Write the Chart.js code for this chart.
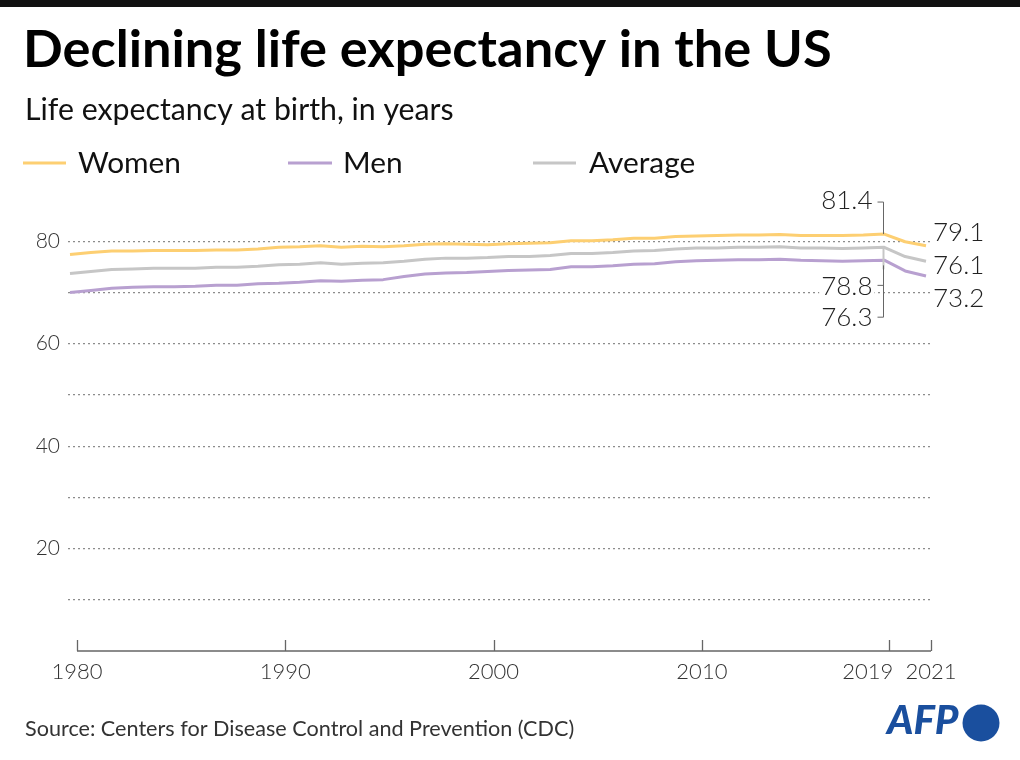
<!DOCTYPE html>
<html><head><meta charset="utf-8">
<script src="https://cdn.jsdelivr.net/npm/chart.js@4.4.1/dist/chart.umd.min.js"></script>
<style>html,body{margin:0;padding:0;background:#fff;}canvas{display:block}</style>
</head><body>
<canvas id="c" width="1020" height="760" style="width:1020px;height:760px"></canvas>
<script>
// ---- data ----
const years = [1980,1981,1982,1983,1984,1985,1986,1987,1988,1989,1990,1991,1992,1993,1994,1995,1996,1997,1998,1999,2000,2001,2002,2003,2004,2005,2006,2007,2008,2009,2010,2011,2012,2013,2014,2015,2016,2017,2018,2019,2020,2021];
const women = [77.4,77.8,78.1,78.1,78.2,78.2,78.2,78.3,78.3,78.5,78.8,78.9,79.1,78.8,79.0,78.9,79.1,79.4,79.5,79.4,79.3,79.5,79.6,79.7,80.1,80.1,80.3,80.6,80.6,80.9,81.0,81.1,81.2,81.2,81.3,81.1,81.1,81.1,81.2,81.4,79.9,79.1];
const men = [70.0,70.4,70.8,71.0,71.1,71.1,71.2,71.4,71.4,71.7,71.8,72.0,72.3,72.2,72.4,72.5,73.1,73.6,73.8,73.9,74.1,74.3,74.4,74.5,75.0,75.0,75.2,75.5,75.6,76.0,76.2,76.3,76.4,76.4,76.5,76.3,76.2,76.1,76.2,76.3,74.2,73.2];
const average = [73.7,74.1,74.5,74.6,74.7,74.7,74.7,74.9,74.9,75.1,75.4,75.5,75.8,75.5,75.7,75.8,76.1,76.5,76.7,76.7,76.8,77.0,77.0,77.2,77.6,77.6,77.8,78.1,78.2,78.5,78.7,78.7,78.8,78.8,78.9,78.7,78.7,78.6,78.7,78.8,77.0,76.1];
const seriesNames = ['Women','Men','Average'];
const xTickYears = [1980,1990,2000,2010,2019,2021];
const yGridValues = [10,20,30,40,50,60,70,80];
const yLabelValues = [20,40,60,80];
const highlightYear = 2019;
const titleText = 'Declining life expectancy in the US';
const subtitleText = 'Life expectancy at birth, in years';
const sourceText = 'Source: Centers for Disease Control and Prevention (CDC)';

// ---- styles ----
const COL = {Women:'#FDCF72', Men:'#B8A0D0', Average:'#C6C6C6'};
const FONT = 'Lato';

function pts(arr){ return years.map((y,i)=>({x:y,y:arr[i]})); }
function fitSize(ctx, text, spec, target){
  ctx.font = spec.replace('SIZE','100px');
  const m = ctx.measureText(text);
  const w = m.actualBoundingBoxLeft + m.actualBoundingBoxRight;
  return 100*target/w;
}
function drawInk(ctx, text, spec, size, xLeft, baseline, color){
  ctx.font = spec.replace('SIZE', size+'px');
  const m = ctx.measureText(text);
  ctx.fillStyle = color; ctx.textBaseline='alphabetic'; ctx.textAlign='left';
  ctx.fillText(text, xLeft + m.actualBoundingBoxLeft, baseline);
}

const staticText = {
  id:'staticText',
  afterDraw(chart){
    const ctx = chart.ctx; ctx.save();
    ctx.fillStyle = '#111'; ctx.fillRect(0,0,1020,7);
    const tSpec = '700 SIZE '+FONT;
    drawInk(ctx, titleText, tSpec, fitSize(ctx,titleText,tSpec,803), 27, 67, '#000');
    const sSpec = '400 SIZE '+FONT;
    drawInk(ctx, subtitleText, sSpec, fitSize(ctx,subtitleText,sSpec,425), 27, 120, '#111');
    const lSize = fitSize(ctx,'Women',sSpec,101);
    const legendPos = {Women:[23,66,78], Men:[288,332,345], Average:[533,576,589]};
    seriesNames.forEach(n=>{
      const p = legendPos[n];
      ctx.strokeStyle = COL[n]; ctx.lineWidth = 3;
      ctx.beginPath(); ctx.moveTo(p[0],163); ctx.lineTo(p[1],163); ctx.stroke();
      drawInk(ctx, n, sSpec, lSize, p[2], 173, '#111');
    });
    drawInk(ctx, sourceText, sSpec, fitSize(ctx,sourceText,sSpec,548), 25, 736, '#333');
    const aSpec = 'italic 900 SIZE '+FONT;
    drawInk(ctx, 'AFP', aSpec, fitSize(ctx,'AFP',aSpec,74), 885, 734, '#1A4F9E');
    ctx.fillStyle = '#1A4F9E'; ctx.beginPath(); ctx.arc(981,723,18.5,0,Math.PI*2); ctx.fill();
    ctx.restore();
  }
};

const annot = {
  id:'annot',
  afterDatasetsDraw(chart){
    const ctx = chart.ctx, xs = chart.scales.x, x2 = chart.scales.x2, ys = chart.scales.y;
    const ca = chart.chartArea;
    ctx.save();
    // x axis line + upward ticks + labels
    ctx.strokeStyle = '#666'; ctx.lineWidth = 1.3;
    ctx.beginPath();
    ctx.moveTo(x2.getPixelForValue(xTickYears[0]), ca.bottom);
    ctx.lineTo(x2.getPixelForValue(xTickYears[xTickYears.length-1]), ca.bottom);
    xTickYears.forEach(v=>{ const p = Math.round(x2.getPixelForValue(v))+0.5; ctx.moveTo(p,ca.bottom); ctx.lineTo(p,ca.bottom-11); });
    ctx.stroke();
    ctx.font = '300 22px '+FONT; ctx.fillStyle = '#333'; ctx.textBaseline = 'middle';
    xTickYears.forEach(v=>{
      const p = x2.getPixelForValue(v);
      if (v === highlightYear) { ctx.textAlign = 'right'; ctx.fillText(String(v), p+4, ca.bottom+21); }
      else { ctx.textAlign = 'center'; ctx.fillText(String(v), p, ca.bottom+21); }
    });

    const i = years.indexOf(highlightYear), e = years.length-1;
    const bx = Math.round(xs.getPixelForValue(highlightYear))-0.5;
    const yW = ys.getPixelForValue(women[i]), yA = ys.getPixelForValue(average[i]), yM = ys.getPixelForValue(men[i]);
    // light connector from average down
    ctx.strokeStyle = '#C6C6C6'; ctx.lineWidth = 2;
    ctx.beginPath(); ctx.moveTo(bx, yA); ctx.lineTo(bx, yA+22); ctx.stroke();
    ctx.strokeStyle = '#666'; ctx.lineWidth = 1;
    ctx.beginPath();
    ctx.moveTo(bx-6, yW-32); ctx.lineTo(bx, yW-32); ctx.lineTo(bx, yW);
    ctx.moveTo(bx, yA+18); ctx.lineTo(bx, yM+57); ctx.lineTo(bx-6, yM+57);
    ctx.moveTo(bx, yA+38); ctx.lineTo(bx-6, yA+38);
    ctx.stroke();

    ctx.font = '300 26px '+FONT; ctx.textBaseline = 'middle';
    function lab(txt, x, y, align, bg){
      ctx.textAlign = align;
      if(bg){ const w = ctx.measureText(txt).width; ctx.fillStyle='#fff'; ctx.fillRect(align==='right'?x-w-2:x-2, y-12, w+4, 24); }
      ctx.fillStyle = '#222'; ctx.fillText(txt, x, y);
    }
    const rx = bx - 11;
    lab(women[i].toFixed(1), rx, yW-33, 'right', true);
    lab(average[i].toFixed(1), rx, yA+39, 'right', true);
    lab(men[i].toFixed(1), rx, yM+57, 'right', true);
    const ex = xs.getPixelForValue(years[e]) + 7;
    const yWe = ys.getPixelForValue(women[e]), yAe = ys.getPixelForValue(average[e]), yMe = ys.getPixelForValue(men[e]);
    lab(women[e].toFixed(1), ex, yWe-13, 'left', true);
    lab(average[e].toFixed(1), ex, yAe+4.5, 'left', true);
    lab(men[e].toFixed(1), ex, yMe+23, 'left', true);
    ctx.restore();
  }
};

function init(){
  const datasets = [
    {label:'Average', data:pts(average), borderColor:COL.Average},
    {label:'Men', data:pts(men), borderColor:COL.Men},
    {label:'Women', data:pts(women), borderColor:COL.Women}
  ].map(d=>Object.assign(d,{borderWidth:3, pointRadius:0, tension:0, fill:false, xAxisID:'x', yAxisID:'y', borderJoinStyle:'round', borderCapStyle:'butt'}));

  new Chart(document.getElementById('c'), {
    type:'line',
    data:{datasets},
    options:{
      responsive:false, animation:false, events:[],
      layout:{padding:{top:190,left:0,right:89,bottom:0}},
      plugins:{legend:{display:false}, title:{display:false}, tooltip:{enabled:false}},
      scales:{
        x:{type:'linear', display:false, min:1979.904, max:2021.239},
        x2:{type:'linear', position:'bottom', min:1979.568, max:2021,
          afterBuildTicks:s=>{ s.ticks = xTickYears.map(v=>({value:v})); },
          afterFit:s=>{ s.height = 109; },
          grid:{display:false, drawTicks:false}, border:{display:false},
          ticks:{display:false}},
        y:{min:0, max:90,
          afterBuildTicks:s=>{ s.ticks = yGridValues.map(v=>({value:v})); },
          afterFit:s=>{ s.width = 68; },
          grid:{color:'#8c8c8c', lineWidth:1.2, drawTicks:false},
          border:{display:false, dash:[2,3]},
          ticks:{padding:8, color:'#333', font:{family:FONT, size:21, weight:'300'}, callback:v=>yLabelValues.includes(v)?String(v):''}}
      }
    },
    plugins:[annot, staticText]
  });
}
Promise.all([
  document.fonts.load('700 50px Lato'), document.fonts.load('400 20px Lato'),
  document.fonts.load('300 20px Lato'), document.fonts.load('italic 900 30px Lato')
]).then(init, init);
</script>
</body></html>
